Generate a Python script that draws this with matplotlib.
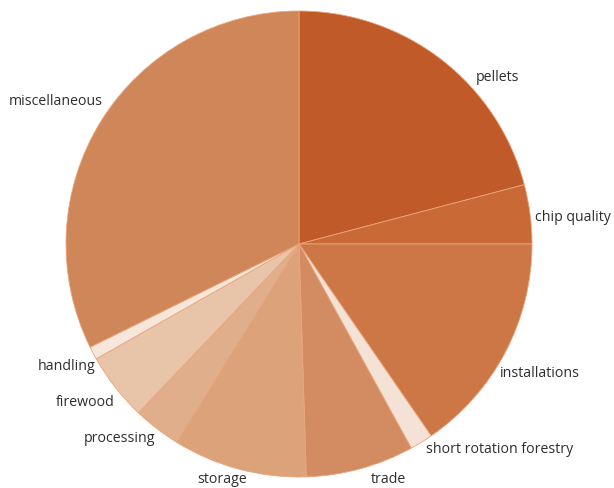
import matplotlib.pyplot as plt

categorias = ["pellets", "chip quality", "installations", "short rotation forestry",
              "trade", "storage", "processing", "firewood", "handling", "miscellaneous"]
valores = [20.9, 4.1, 15.4, 1.6, 7.5, 9.3, 3.3, 4.7, 0.9, 32.3]
colores = ["#C05A28", "#C96935", "#CC7745", "#F5E2D6", "#D38C62",
           "#DCA27A", "#E0AE8A", "#E8C4A8", "#F7E6DA", "#CF8658"]

# posiciones de etiquetas (pixeles de la figura) y alineacion
pos_etiquetas = [(476, 78, "left"), (535, 218, "left"), (500, 374, "left"),
                 (426, 450, "left"), (371, 480, "left"), (197, 480, "left"),
                 (155, 439, "right"), (115, 403, "right"), (95, 367, "right"),
                 (103, 102, "right")]

ancho, alto = 614, 489
fig = plt.figure(figsize=(ancho / 100, alto / 100), dpi=100)
ax = fig.add_axes([0, 0, 1, 1])

ax.pie(valores, colors=colores, startangle=90, counterclock=False,
       center=(299, alto - 245), radius=233, frame=True,
       wedgeprops=dict(edgecolor="#E9A57C", linewidth=0.6))
ax.set_xlim(0, ancho)
ax.set_ylim(0, alto)
ax.set_aspect("equal")
ax.axis("off")

for nombre, (x, y, ha) in zip(categorias, pos_etiquetas):
    ax.text(x, alto - y, nombre, ha=ha, va="center", fontsize=10.2,
            family="Open Sans", color="#2e2e2e")

fig.savefig("out.png", dpi=100)
